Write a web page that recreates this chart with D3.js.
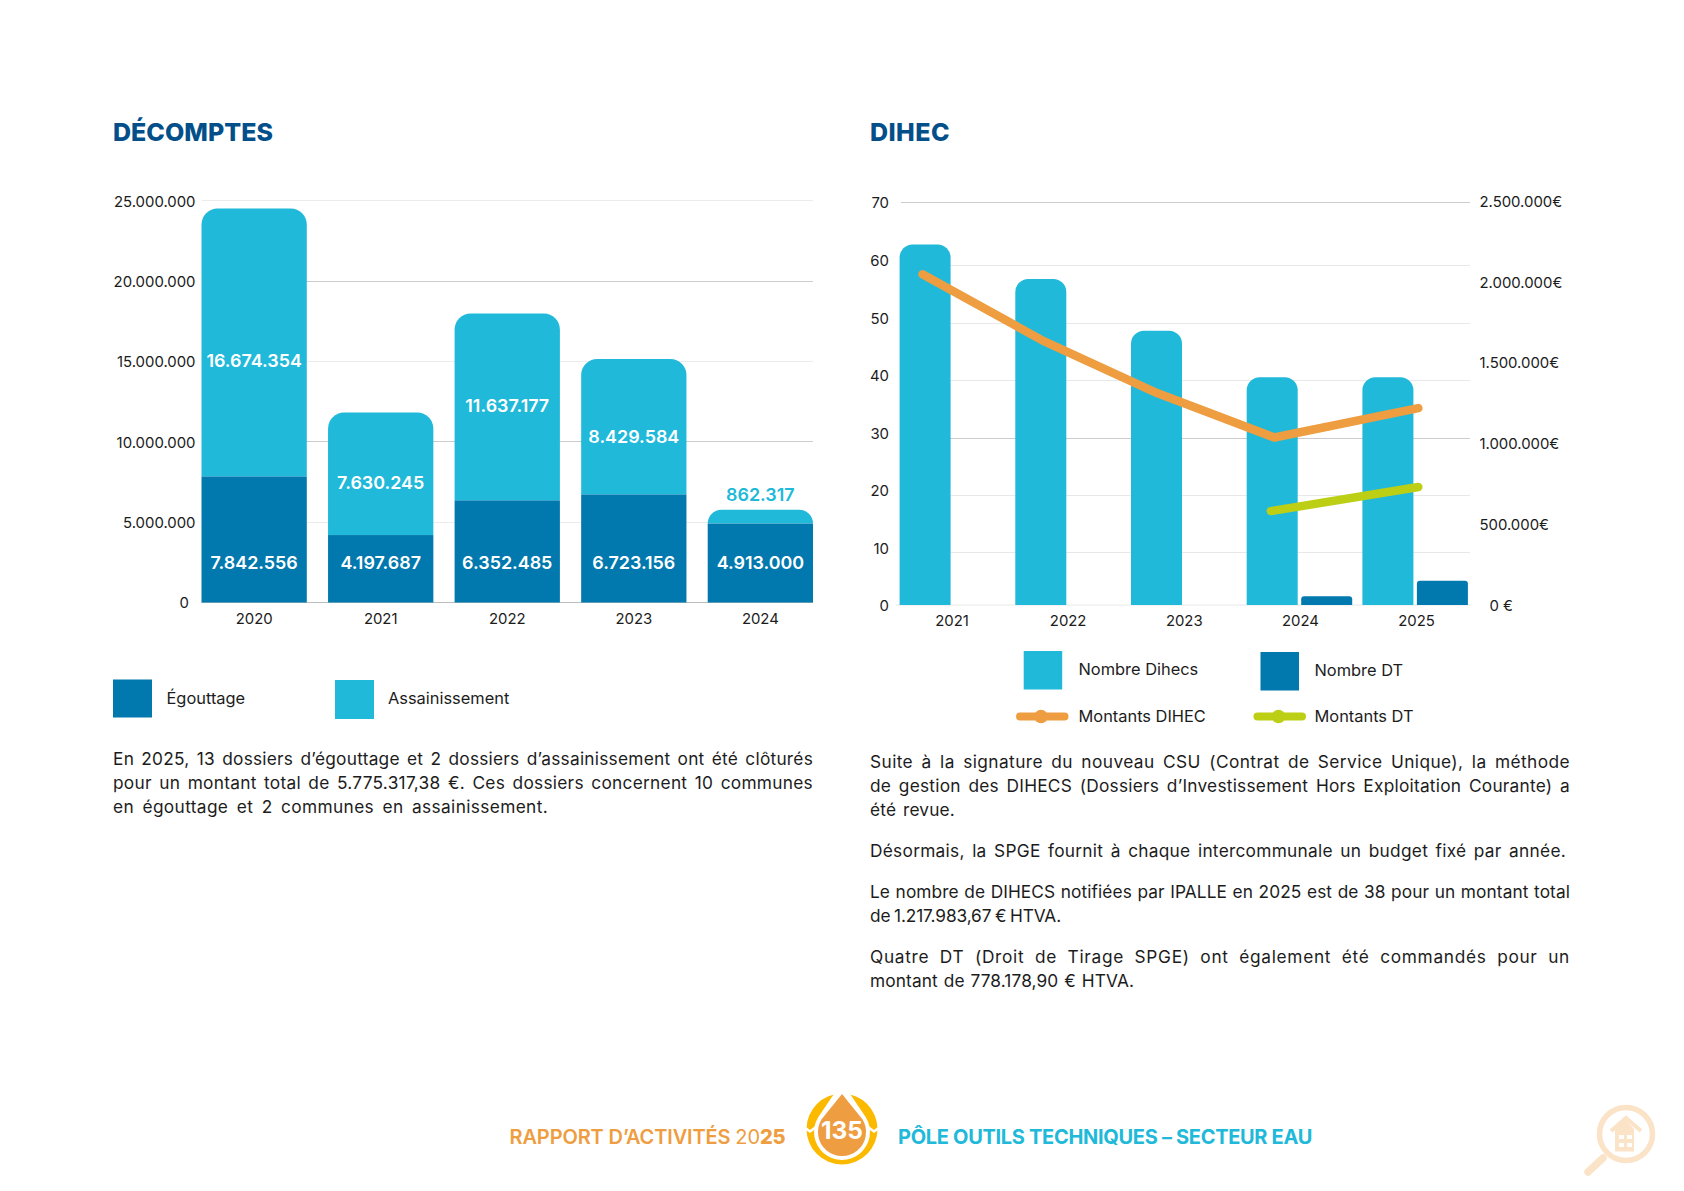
<!DOCTYPE html>
<html lang="fr">
<head>
<meta charset="utf-8">
<title>Décomptes et DIHEC</title>
<script src="https://cdnjs.cloudflare.com/ajax/libs/d3/7.9.0/d3.min.js"></script>
<style>
  html, body { margin: 0; background: #fff; }
  svg { display: block; font-family: Inter, "Noto Sans", sans-serif; }
</style>
</head>
<body>
<svg id="page" width="1684" height="1191"></svg>
<script>
// Décomptes
const decompteYears = ["2020", "2021", "2022", "2023", "2024"];
const egouttage = [7842556, 4197687, 6352485, 6723156, 4913000];
const assainissement = [16674354, 7630245, 11637177, 8429584, 862317];
const decompteTicks = [0, 5000000, 10000000, 15000000, 20000000, 25000000];
const assainissementAnchors = [15040000, 7470000, 12250000, 10300000, 6700000];
const egouttageAnchor = 2500000;

// DIHEC
const dihecYears = ["2021", "2022", "2023", "2024", "2025"];
const nombreDihecs = [62.7, 56.7, 47.7, 39.6, 39.6];
const nombreDT = [0, 0, 0, 1.5, 4.2];
const countTicks = [0, 10, 20, 30, 40, 50, 60, 70];
const countGrid = [9.1, 19, 29, 39, 49, 59, 70];
const amountTicks = [0, 500000, 1000000, 1500000, 2000000, 2500000];
const montantsDihecYear = [2020.75, 2021.79, 2022.77, 2023.78, 2025.02];
const montantsDihec = [2043000, 1631000, 1308000, 1033000, 1215000];
const montantsDTYear = [2023.75, 2025.02];
const montantsDT = [578000, 727000];

// Page copy
const leftCopy = [
  ["En 2025, 13 dossiers d’égouttage et 2 dossiers d’assainissement ont été clôturés", 759, 813],
  ["pour un montant total de 5.775.317,38 €. Ces dossiers concernent 10 communes", 783, 813],
  ["en égouttage et 2 communes en assainissement.", 807, 548]
];
const rightCopy = [
  ["Suite à la signature du nouveau CSU (Contrat de Service Unique), la méthode", 762, 1570],
  ["de gestion des DIHECS (Dossiers d’Investissement Hors Exploitation Courante) a", 785.5, 1570],
  ["été revue.", 810, 955],
  ["Désormais, la SPGE fournit à chaque intercommunale un budget fixé par année.", 851, 1566],
  ["Le nombre de DIHECS notifiées par IPALLE en 2025 est de 38 pour un montant total", 892, 1570],
  ["de 1.217.983,67 € HTVA.", 915.5, 1061],
  ["Quatre DT (Droit de Tirage SPGE) ont également été commandés pour un", 957, 1570],
  ["montant de 778.178,90 € HTVA.", 981, 1134]
];

const LIGHT = "#20b9d9", DARK = "#0279ae", ORANGE = "#ee9d40", GREEN = "#bccf15",
      NAVY = "#034f8a", GOLD = "#fbb900", INK = "#1c1c1c", FADED = "#fbe3c8";
const TICK_SIZE = 14.9, LEGEND_SIZE = 16.4, VALUE_SIZE = 17.9, COPY_SIZE = 17.3;

const svg = d3.select("#page");
const fr = d3.formatLocale({ decimal: ",", thousands: ".", grouping: [3], currency: ["", " €"] });
const dotted = fr.format(",d");

// Each line is brought to its end point: part of the slack goes between letters, the rest between words.
function justified(g, rows, xStart, size) {
  rows.forEach(([line, y, xEnd]) => {
    const t = g.append("text").attr("x", xStart).attr("y", y).attr("dy", "0.35em")
      .attr("font-size", size).attr("fill", INK).text(line);
    const gaps = line.split(" ").length - 1;
    const spare = (xEnd - xStart) - t.node().getComputedTextLength();
    t.style("letter-spacing", (spare * 0.45 / line.length) + "px")
     .style("word-spacing", (spare * 0.55 / gaps) + "px");
  });
}

// Letter spacing that brings a label to a known width.
function fitWidth(sel, width) {
  const n = sel.text().length;
  const w = sel.node().getComputedTextLength();
  sel.style("letter-spacing", ((width - w) / n) + "px");
  return sel;
}

function roundTop(x, yTop, w, yBase, r) {
  const rr = Math.min(r, yBase - yTop);
  return `M${x},${yBase}V${yTop + rr}A${rr},${rr} 0 0 1 ${x + rr},${yTop}H${x + w - rr}A${rr},${rr} 0 0 1 ${x + w},${yTop + rr}V${yBase}Z`;
}

// ---------- Décomptes ----------
const dc = svg.append("g");
dc.append("text").attr("x", 113).attr("y", 132).attr("dy", "0.36em")
  .attr("font-size", 25).attr("font-weight", 800).attr("fill", NAVY).text("DÉCOMPTES")
  .call(fitWidth, 160);

const xD = d3.scaleBand().domain(decompteYears).range([201.5, 813]).paddingInner(0.168).paddingOuter(0);
const yD = d3.scaleLinear().domain([0, 25000000]).range([602.5, 200.8]);

const strongDecompte = new Set([10000000, 20000000]);
dc.append("g").attr("shape-rendering", "crispEdges").selectAll("line").data(decompteTicks.filter(d => d > 0)).join("line")
  .attr("x1", 201.5).attr("x2", 813)
  .attr("y1", d => yD(d)).attr("y2", d => yD(d))
  .attr("stroke", d => strongDecompte.has(d) ? "#cccccc" : "#ececec").attr("stroke-width", 1);

dc.append("line").attr("x1", 201.5).attr("x2", 813).attr("y1", yD(0)).attr("y2", yD(0))
  .attr("stroke", "#bdbdbd");

const axisLeftD = d3.axisLeft(yD).tickValues(decompteTicks).tickSize(0).tickPadding(0)
  .tickFormat(d => d === 0 ? "0" : dotted(d));
dc.append("g").attr("transform", "translate(195.5,0.6)").call(axisLeftD)
  .call(g => g.select(".domain").remove())
  .call(g => g.selectAll("text").attr("font-family", "Inter").attr("font-size", TICK_SIZE).attr("fill", INK)
    .attr("x", d => d === 0 ? -6.5 : 0));

const axisBottomD = d3.axisBottom(xD).tickSize(0).tickPadding(0);
dc.append("g").attr("transform", "translate(0,613)").call(axisBottomD)
  .call(g => g.select(".domain").remove())
  .call(g => g.selectAll("text").attr("font-family", "Inter").attr("font-size", TICK_SIZE).attr("fill", INK));

dc.append("g").selectAll("path").data(decompteYears).join("path")
  .attr("fill", LIGHT)
  .attr("d", (yr, i) => roundTop(xD(yr), yD(egouttage[i] + assainissement[i]), xD.bandwidth(), yD(egouttage[i]), 16));
dc.append("g").selectAll("rect").data(decompteYears).join("rect")
  .attr("fill", DARK)
  .attr("x", yr => xD(yr)).attr("width", xD.bandwidth())
  .attr("y", (yr, i) => yD(egouttage[i])).attr("height", (yr, i) => yD(0) - yD(egouttage[i]));

dc.append("g").selectAll("text").data(decompteYears).join("text")
  .attr("x", yr => xD(yr) + xD.bandwidth() / 2).attr("y", yD(egouttageAnchor)).attr("dy", "0.36em")
  .attr("text-anchor", "middle").attr("font-size", VALUE_SIZE).attr("font-weight", 600).attr("fill", "#fff")
  .text((yr, i) => dotted(egouttage[i]));
dc.append("g").selectAll("text").data(decompteYears).join("text")
  .attr("x", yr => xD(yr) + xD.bandwidth() / 2).attr("y", (yr, i) => yD(assainissementAnchors[i])).attr("dy", "0.36em")
  .attr("text-anchor", "middle").attr("font-size", VALUE_SIZE).attr("font-weight", 600)
  .attr("fill", (yr, i) => i === 4 ? LIGHT : "#fff")
  .text((yr, i) => dotted(assainissement[i]));

const legendD = dc.append("g");
legendD.append("rect").attr("x", 113).attr("y", 679.5).attr("width", 39).attr("height", 38).attr("fill", DARK);
legendD.append("text").attr("x", 166.5).attr("y", 698).attr("dy", "0.35em").attr("font-size", LEGEND_SIZE).attr("fill", INK).text("Égouttage");
legendD.append("rect").attr("x", 335).attr("y", 680).attr("width", 39).attr("height", 39).attr("fill", LIGHT);
legendD.append("text").attr("x", 388).attr("y", 698.5).attr("dy", "0.35em").attr("font-size", LEGEND_SIZE).attr("fill", INK).text("Assainissement");

justified(dc.append("g"), leftCopy, 113, COPY_SIZE);

// ---------- DIHEC ----------
const di = svg.append("g");
di.append("text").attr("x", 870).attr("y", 132).attr("dy", "0.36em")
  .attr("font-size", 25).attr("font-weight", 800).attr("fill", NAVY).text("DIHEC")
  .call(fitWidth, 80);

const xB = d3.scaleBand().domain(dihecYears).range([896.3, 1474.8]);
const xSub = d3.scaleBand().domain(["dihec", "dt"]).range([3.3, 108.8]).paddingInner(3.5 / 54.5).paddingOuter(0);
const yCount = d3.scaleLinear().domain([0, 70]).range([605, 202.4]);
const yAmount = d3.scaleLinear().domain([0, 2500000]).range([604.5, 200.4]);
const xYear = d3.scaleLinear().domain([2021, 2025]).range([951.5, 1416]);

const strongCount = new Set([70, 29]);
di.append("g").attr("shape-rendering", "crispEdges").selectAll("line").data(countGrid).join("line")
  .attr("x1", 901).attr("x2", 1470)
  .attr("y1", d => yCount(d)).attr("y2", d => yCount(d))
  .attr("stroke", d => strongCount.has(d) ? "#cccccc" : "#e8e8e8");
di.append("line").attr("x1", 896).attr("x2", 1470).attr("y1", yCount(0)).attr("y2", yCount(0)).attr("stroke", "#e8e8e8");

di.append("g").attr("transform", "translate(889,0.8)")
  .call(d3.axisLeft(yCount).tickValues(countTicks).tickSize(0).tickPadding(0))
  .call(g => g.select(".domain").remove())
  .call(g => g.selectAll("text").attr("font-family", "Inter").attr("font-size", TICK_SIZE).attr("fill", INK));

di.append("g").attr("transform", "translate(1479.5,1)")
  .call(d3.axisRight(yAmount).tickValues(amountTicks).tickSize(0).tickPadding(0)
    .tickFormat(d => d === 0 ? "0 €" : dotted(d) + "€"))
  .call(g => g.select(".domain").remove())
  .call(g => g.selectAll("text").attr("font-family", "Inter").attr("font-size", TICK_SIZE).attr("fill", INK)
    .attr("x", d => d === 0 ? 10 : 0));

di.append("g").attr("transform", "translate(0,615)")
  .call(d3.axisBottom(xYear).tickValues(dihecYears.map(Number)).tickSize(0).tickPadding(0).tickFormat(d3.format("d")))
  .call(g => g.select(".domain").remove())
  .call(g => g.selectAll("text").attr("font-family", "Inter").attr("font-size", TICK_SIZE).attr("fill", INK));

di.append("g").selectAll("path").data(dihecYears).join("path")
  .attr("fill", LIGHT)
  .attr("d", (yr, i) => roundTop(xB(yr) + xSub("dihec"), yCount(nombreDihecs[i]), xSub.bandwidth(), yCount(0), 13));
di.append("g").selectAll("path").data(dihecYears.filter((yr, i) => nombreDT[i] > 0)).join("path")
  .attr("fill", DARK)
  .attr("d", yr => {
    const v = nombreDT[dihecYears.indexOf(yr)];
    return roundTop(xB(yr) + xSub("dt"), yCount(v), xSub.bandwidth(), yCount(0), 3);
  });

const amountLine = d3.line().x(d => xYear(d[0])).y(d => yAmount(d[1]));
di.append("path").attr("d", amountLine(d3.zip(montantsDihecYear, montantsDihec)))
  .attr("fill", "none").attr("stroke", ORANGE).attr("stroke-width", 8.5)
  .attr("stroke-linecap", "round").attr("stroke-linejoin", "round");
di.append("path").attr("d", amountLine(d3.zip(montantsDTYear, montantsDT)))
  .attr("fill", "none").attr("stroke", GREEN).attr("stroke-width", 8.5)
  .attr("stroke-linecap", "round").attr("stroke-linejoin", "round");

const legendI = di.append("g");
legendI.append("rect").attr("x", 1023.7).attr("y", 651).attr("width", 38.5).attr("height", 38.5).attr("fill", LIGHT);
legendI.append("text").attr("x", 1078.5).attr("y", 669.5).attr("dy", "0.35em").attr("font-size", LEGEND_SIZE).attr("fill", INK).text("Nombre Dihecs");
legendI.append("rect").attr("x", 1260.5).attr("y", 652).attr("width", 38.5).attr("height", 38.5).attr("fill", DARK);
legendI.append("text").attr("x", 1314.5).attr("y", 670.5).attr("dy", "0.35em").attr("font-size", LEGEND_SIZE).attr("fill", INK).text("Nombre DT");
[[1016, 1068.5, 1041, ORANGE, 1078.5, "Montants DIHEC"], [1253.5, 1306, 1278.5, GREEN, 1314.5, "Montants DT"]]
  .forEach(([a, b, c, col, tx, label]) => {
    legendI.append("line").attr("x1", a + 4).attr("x2", b - 4).attr("y1", 716.5).attr("y2", 716.5)
      .attr("stroke", col).attr("stroke-width", 8).attr("stroke-linecap", "round");
    legendI.append("circle").attr("cx", c).attr("cy", 716.5).attr("r", 6.8).attr("fill", col);
    legendI.append("text").attr("x", tx).attr("y", 716.5).attr("dy", "0.35em").attr("font-size", LEGEND_SIZE).attr("fill", INK).text(label);
  });

justified(di.append("g"), rightCopy, 870, COPY_SIZE);

// ---------- Footer ----------
const ft = svg.append("g");
const left = ft.append("text").attr("x", 509.5).attr("y", 1137).attr("dy", "0.36em")
  .attr("font-size", 20).attr("font-weight", 600).attr("fill", ORANGE);
left.append("tspan").text("RAPPORT D’ACTIVITÉS ");
left.append("tspan").attr("font-weight", 400).text("20");
left.append("tspan").attr("font-weight", 800).text("25");
fitWidth(left, 276);
ft.append("text").attr("x", 898).attr("y", 1137).attr("dy", "0.36em")
  .attr("font-size", 20).attr("font-weight", 700).attr("fill", LIGHT)
  .text("PÔLE OUTILS TECHNIQUES – SECTEUR EAU").call(fitWidth, 414);

// Page-number badge: gold ring with a drop set into it
const drop = (cx, cy, r, tip) => {
  const dx = r * 0.85, dy = r * 0.527;
  return `M${cx},${tip}L${cx + dx},${cy - dy}A${r},${r} 0 1 1 ${cx - dx},${cy - dy}Z`;
};
const badge = ft.append("g");
badge.append("circle").attr("cx", 842).attr("cy", 1129).attr("r", 35.5).attr("fill", GOLD);
badge.append("path").attr("d", drop(842, 1132, 28, 1082)).attr("fill", "#fff");
badge.append("path").attr("d", drop(842, 1132, 24, 1094)).attr("fill", ORANGE);
[[804, 810, 816], [880, 874, 868]].forEach(([a, b, c]) => {
  badge.append("polyline").attr("points", `${a},1127 ${b},1131.5 ${c},1127`)
    .attr("fill", "none").attr("stroke", "#fff").attr("stroke-width", 2.5);
});
badge.append("text").attr("x", 842).attr("y", 1130).attr("dy", "0.36em").attr("text-anchor", "middle")
  .attr("font-size", 24.5).attr("font-weight", 700).attr("fill", "#fff").text("135");

// Faded magnifier over a house, bottom-right corner
const mag = ft.append("g").attr("fill", "none").attr("stroke", FADED).attr("stroke-linecap", "round");
mag.append("circle").attr("cx", 1626).attr("cy", 1134).attr("r", 26.5).attr("stroke-width", 5.5);
mag.append("line").attr("x1", 1603).attr("y1", 1158).attr("x2", 1588).attr("y2", 1172).attr("stroke-width", 7.5);
mag.append("polyline").attr("points", "1611,1131 1626,1118 1641,1131").attr("stroke-width", 4).attr("stroke-linecap", "butt");
mag.append("path").attr("stroke", "none").attr("fill", FADED)
  .attr("d", "M1615,1129L1626,1120L1634,1129V1151.5H1615Z");
[[1619, 1135], [1627, 1135], [1619, 1143], [1627, 1143]].forEach(([x, y]) => {
  mag.append("rect").attr("x", x).attr("y", y).attr("width", 5).attr("height", 4).attr("fill", "#fff").attr("stroke", "none");
});
</script>
</body>
</html>
